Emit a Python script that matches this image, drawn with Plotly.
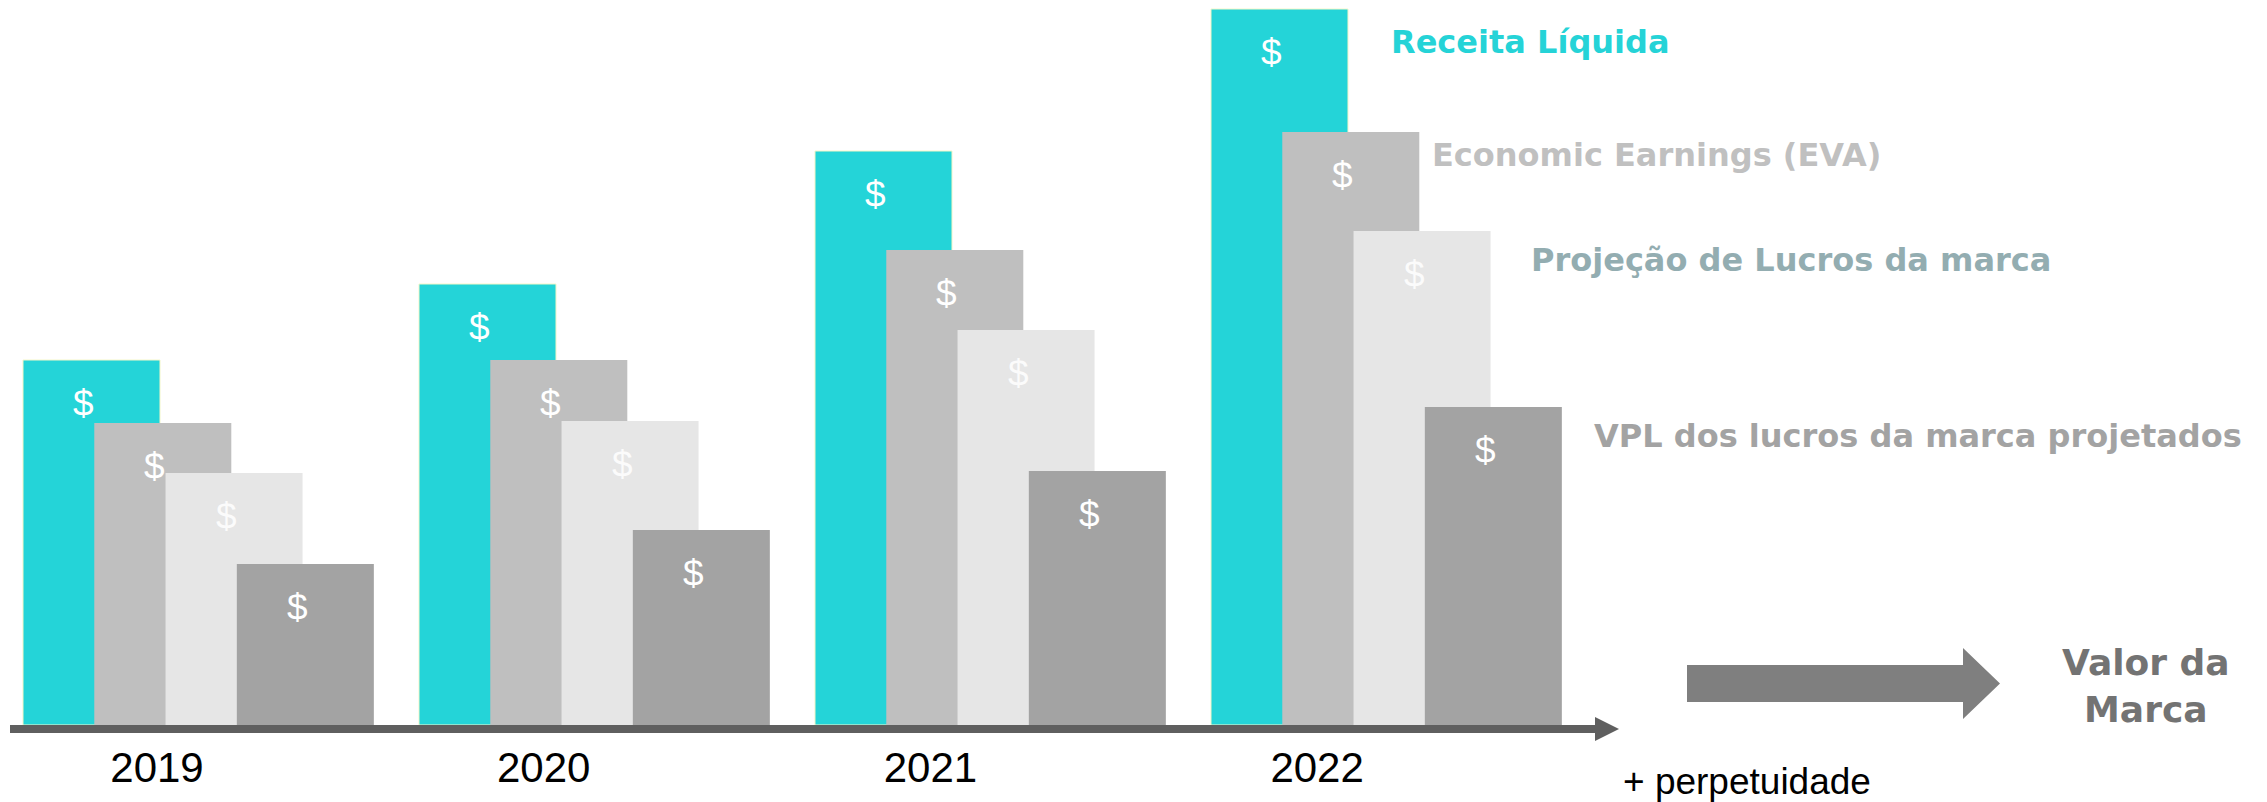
import plotly.graph_objects as go

# Years and the four measures shown for each one
years = ["2019", "2020", "2021", "2022"]
series_names = [
    "Receita Líquida",
    "Economic Earnings (EVA)",
    "Projeção de Lucros da marca",
    "VPL dos lucros da marca projetados",
]
receita_liquida = [365, 441, 574, 716]
economic_earnings = [302, 365, 475, 593]
projecao_lucros = [252, 304, 395, 494]
vpl_lucros = [161, 195, 254, 318]

series_values = [receita_liquida, economic_earnings, projecao_lucros, vpl_lucros]
bar_colors = ["#24d4d8", "#bfbfbf", "#e6e6e6", "#a3a3a3"]
label_colors = ["#25d3d7", "#c0c0c0", "#93adb1", "#a3a3a3"]
dollar_colors = ["#ffffff", "#ffffff", "rgba(255,255,255,0.85)", "#ffffff"]

W, H = 2267, 802
STEP = 0.18      # horizontal shift between the staggered bars of one year
BAR_W = 0.346


def px(x):
    return x / W


def py(y):
    return 1 - y / H


fig = go.Figure()
annotations = []

for j, (name, vals) in enumerate(zip(series_names, series_values)):
    xs = [g + STEP * j for g in range(len(years))]
    fig.add_trace(go.Bar(
        x=xs, y=vals, width=BAR_W, name=name,
        marker=dict(color=bar_colors[j],
                    line=dict(color="#f4f6c8" if j == 0 else bar_colors[j],
                              width=1 if j == 0 else 0)),
        hoverinfo="skip", showlegend=False,
    ))
    for x, v in zip(xs, vals):
        annotations.append(dict(
            x=x, y=v, xref="x", yref="y", text="$", showarrow=False,
            xshift=-8, yshift=-43,
            font=dict(family="Liberation Sans, Arial", size=37,
                      color=dollar_colors[j]),
        ))

# invisible carrier for the year tick labels on the secondary x axis
fig.add_trace(go.Scatter(
    x=years, y=[0] * len(years), xaxis="x2", mode="markers",
    marker=dict(opacity=0), hoverinfo="skip", showlegend=False,
))

# Series labels to the right of the last year
label_pos = [(1389, 42), (1430, 155), (1529, 260), (1592, 436)]
for name, col, (lx, ly) in zip(series_names, label_colors, label_pos):
    annotations.append(dict(
        x=px(lx), y=py(ly), xref="paper", yref="paper", text=f"<b>{name}</b>",
        showarrow=False, xanchor="left", yanchor="middle",
        font=dict(family="DejaVu Sans", size=32, color=col),
    ))

annotations.append(dict(
    x=px(1621), y=py(781), xref="paper", yref="paper", text="+ perpetuidade",
    showarrow=False, xanchor="left", yanchor="middle",
    font=dict(family="Liberation Sans, Arial", size=37, color="#000000"),
))
annotations.append(dict(
    x=px(2146), y=py(686), xref="paper", yref="paper",
    text="<b>Valor da</b><br><b>Marca</b>", align="center",
    showarrow=False, xanchor="center", yanchor="middle",
    font=dict(family="DejaVu Sans", size=36, color="#737373"),
))

shapes = [
    # time axis with arrow head
    dict(type="line", xref="paper", yref="paper",
         x0=px(10), x1=px(1597), y0=py(729), y1=py(729),
         line=dict(color="#5f5f5f", width=8)),
    dict(type="path", xref="paper", yref="paper",
         path=f"M {px(1595)},{py(717)} L {px(1619)},{py(729)} L {px(1595)},{py(741)} Z",
         fillcolor="#5f5f5f", line=dict(width=0)),
    # block arrow towards the brand value
    dict(type="path", xref="paper", yref="paper",
         path=(f"M {px(1687)},{py(665)} L {px(1963)},{py(665)} L {px(1963)},{py(648)} "
               f"L {px(2000)},{py(683.5)} L {px(1963)},{py(719)} L {px(1963)},{py(702)} "
               f"L {px(1687)},{py(702)} Z"),
         fillcolor="#7f7f7f", line=dict(width=0)),
]

fig.update_layout(
    width=W, height=H,
    margin=dict(l=0, r=0, t=0, b=0),
    paper_bgcolor="white", plot_bgcolor="white",
    barmode="overlay",
    xaxis=dict(range=[-0.23106, 5.49369], visible=False, fixedrange=True),
    xaxis2=dict(overlaying="x", anchor="y", side="bottom", type="category",
                range=[-0.406, 5.4564], showline=False, showgrid=False,
                zeroline=False, ticks="outside", ticklen=2,
                tickcolor="rgba(0,0,0,0)",
                tickfont=dict(family="Liberation Sans, Arial", size=42,
                              color="#000000")),
    yaxis=dict(range=[-4, 725], domain=[(H - 729) / H, 1], visible=False,
               fixedrange=True),
    annotations=annotations,
    shapes=shapes,
)

fig.write_html("out.html")
